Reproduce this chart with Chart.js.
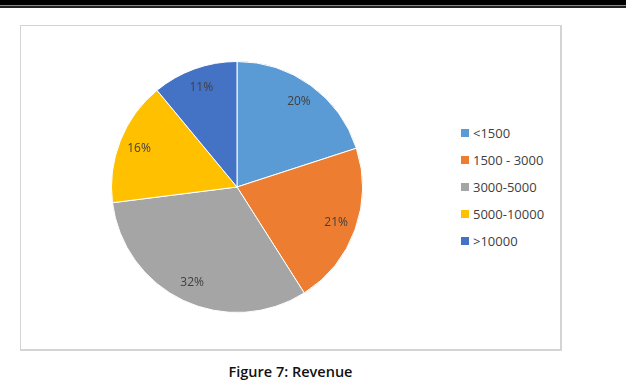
<!DOCTYPE html>
<html>
<head>
<meta charset="utf-8">
<script src="https://cdn.jsdelivr.net/npm/chart.js@4/dist/chart.umd.min.js"></script>
<style>
  html, body { margin: 0; padding: 0; background: #fff; }
  body { width: 626px; height: 382px; position: relative; overflow: hidden; font-family: "Open Sans", sans-serif; }
  .rule1 { position: absolute; left: 0; top: 0; width: 626px; height: 5px; background: #000; }
  .rule2 { position: absolute; left: 0; top: 5px; width: 626px; height: 1px; background: #888; }
  .rule3 { position: absolute; left: 0; top: 6px; width: 626px; height: 2px; background: #222; }
  .frame { position: absolute; left: 20px; top: 25px; width: 539px; height: 323px; border: 1px solid #d4d4d4; border-width: 1px 2px 2px 1px; }
  #pieWrap { position: absolute; left: 111px; top: 61px; width: 252px; height: 252px; }
  #legend { position: absolute; left: 461px; top: 119px; font-size: 13px; color: #404040; }
  .leg-row { height: 27px; display: flex; align-items: center; white-space: nowrap; }
  .leg-box { width: 8px; height: 8px; margin-right: 4px; }
  .caption { position: absolute; left: 0; width: 581px; top: 362px; text-align: center; font-size: 14.5px; font-weight: 600; color: #111; }
</style>
</head>
<body>
<div class="rule1"></div><div class="rule2"></div><div class="rule3"></div>
<div class="frame"></div>
<div id="pieWrap"><canvas id="pie"></canvas></div>
<div id="legend"></div>
<div class="caption">Figure 7: Revenue</div>
<script>
const categories = ["<1500", "1500 - 3000", "3000-5000", "5000-10000", ">10000"];
const shares = [20, 21, 32, 16, 11];
const colors = ["#5b9bd5", "#ed7d31", "#a5a5a5", "#ffc000", "#4472c4"];

const el = (id) => document.getElementById(id);

// legend drawn as html so it sits where the original one does
el("legend").innerHTML = categories.map((c, i) => `
  <div class="leg-row"><div class="leg-box" style="background:${colors[i]}"></div>${c}</div>
`).join("");

// percentage labels inside each slice
const sliceLabels = {
  id: "sliceLabels",
  afterDatasetsDraw(chart) {
    const ctx = chart.ctx;
    const meta = chart.getDatasetMeta(0);
    ctx.save();
    ctx.font = "12px 'Open Sans', sans-serif";
    ctx.fillStyle = "#404040";
    ctx.textAlign = "center";
    ctx.textBaseline = "middle";
    meta.data.forEach((arc, i) => {
      const mid = (arc.startAngle + arc.endAngle) / 2;
      const r = arc.outerRadius * 0.84;
      ctx.fillText(shares[i] + "%", arc.x + Math.cos(mid) * r, arc.y + Math.sin(mid) * r);
    });
    ctx.restore();
  },
};

new Chart(el("pie").getContext("2d"), {
  type: "pie",
  data: {
    labels: categories,
    datasets: [{ data: shares, backgroundColor: colors, borderColor: "#fff", borderWidth: 1 }],
  },
  options: {
    responsive: true,
    maintainAspectRatio: false,
    animation: false,
    layout: { padding: 0 },
    plugins: { legend: { display: false }, tooltip: { enabled: false } },
  },
  plugins: [sliceLabels],
});
</script>
</body>
</html>
